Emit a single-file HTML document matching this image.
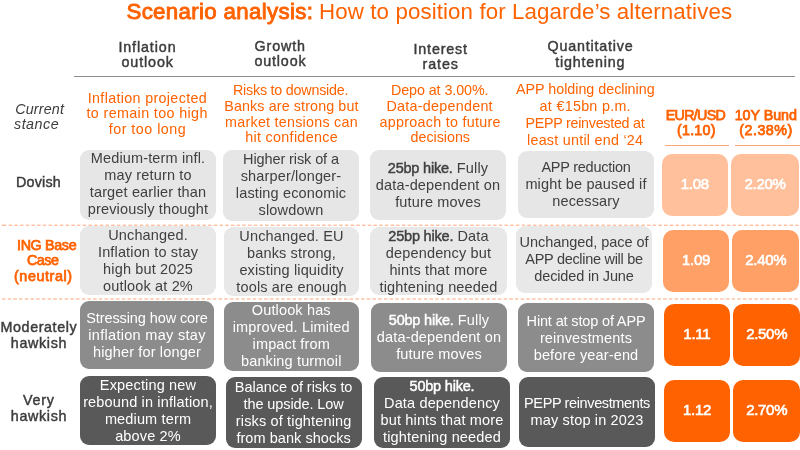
<!DOCTYPE html>
<html><head><meta charset="utf-8"><title>Scenario analysis</title>
<style>
html,body{margin:0;padding:0;background:#fff}
body{width:800px;height:450px;position:relative;overflow:hidden;font-family:"Liberation Sans",sans-serif;}
.bx{position:absolute;border-radius:9px;display:flex;flex-direction:column;justify-content:center;align-items:center;text-align:center;font-size:14.5px;line-height:17px;letter-spacing:0.15px;white-space:nowrap;box-sizing:border-box}
.bx div{display:block}
.bx b{font-weight:400;letter-spacing:-0.2px;-webkit-text-stroke:0.45px currentColor}
.ob b{letter-spacing:-0.3px;-webkit-text-stroke:0.6px currentColor}
.ob{font-size:15px;letter-spacing:-0.3px;border-radius:10px}
.l{position:absolute;white-space:pre;line-height:30px}
.hl{position:absolute;background:#8e8e8e}
.ol{position:absolute;background:#FFA577;height:1px}
</style></head><body><div id="w" style="position:absolute;left:0;top:0;width:800px;height:450px;will-change:transform">

<div class="hl" style="left:73.5px;top:75.55px;width:721.5px;height:1px"></div>
<div class="ol" style="left:665px;top:144.6px;width:64px"></div>
<div class="ol" style="left:734.75px;top:144.6px;width:66px"></div>
<svg style="position:absolute;left:0;top:0" width="800" height="450" viewBox="0 0 800 450"><rect x="-1.6" y="225.2" width="803.2" height="73.8" rx="4.5" ry="4.5" fill="none" stroke="#FFA577" stroke-width="1" stroke-dasharray="3.5 2.2"/></svg>
<div class="bx" style="left:80px;top:149.5px;width:136px;height:70.0px;background:#E6E6E6;color:#404040;padding-bottom:1.0px;"><div>Medium-term infl.</div><div>may return to</div><div>target earlier than</div><div>previously thought</div></div>
<div class="bx" style="left:223px;top:149.5px;width:136px;height:71.0px;background:#E6E6E6;color:#404040;"><div style="letter-spacing:-0.1px">Higher risk of a</div><div>sharper/longer-</div><div>lasting economic</div><div>slowdown</div></div>
<div class="bx" style="left:370px;top:150px;width:136px;height:70px;background:#E6E6E6;color:#404040;"><div><b>25bp hike.</b> Fully</div><div>data-dependent on</div><div>future moves</div></div>
<div class="bx" style="left:518px;top:151px;width:136px;height:66.5px;background:#E6E6E6;color:#404040;padding-top:1.0px;"><div style="letter-spacing:-0.25px">APP reduction</div><div>might be paused if</div><div>necessary</div></div>
<div class="bx ob" style="left:661.5px;top:154px;width:66.5px;height:62px;background:#FFC09B;color:#fff;padding-bottom:3.0px;"><div><b>1.08</b></div></div>
<div class="bx ob" style="left:731px;top:154px;width:68px;height:62px;background:#FFC09B;color:#fff;padding-bottom:3.0px;"><div><b>2.20%</b></div></div>
<div class="bx" style="left:80px;top:226px;width:136px;height:68.5px;background:#E8E8E8;color:#404040;padding-top:2px;"><div>Unchanged.</div><div>Inflation to stay</div><div>high but 2025</div><div>outlook at 2%</div></div>
<div class="bx" style="left:224px;top:227px;width:135px;height:68.5px;background:#E8E8E8;color:#404040;padding-top:2px;"><div>Unchanged. EU</div><div>banks strong,</div><div>existing liquidity</div><div>tools are enough</div></div>
<div class="bx" style="left:370px;top:227px;width:137px;height:68px;background:#E8E8E8;color:#404040;padding-top:1.0px;"><div><b>25bp hike.</b> Data</div><div>dependency but</div><div>hints that more</div><div>tightening needed</div></div>
<div class="bx" style="left:516px;top:226px;width:136px;height:67px;background:#E8E8E8;color:#404040;padding-bottom:1.0px;"><div style="letter-spacing:-0.05px">Unchanged, pace of</div><div style="letter-spacing:-0.3px">APP decline will be</div><div style="letter-spacing:-0.15px">decided in June</div></div>
<div class="bx ob" style="left:663px;top:230px;width:66px;height:62px;background:#FFA066;color:#fff;padding-bottom:3.0px;"><div><b>1.09</b></div></div>
<div class="bx ob" style="left:732.4px;top:230px;width:66.9px;height:62px;background:#FFA066;color:#fff;padding-bottom:3.0px;"><div><b>2.40%</b></div></div>
<div class="bx" style="left:80px;top:301px;width:134px;height:68px;background:#8C8C8C;color:#fff;padding-top:1.0px;"><div style="letter-spacing:-0.1px">Stressing how core</div><div style="letter-spacing:0.3px">inflation may stay</div><div>higher for longer</div></div>
<div class="bx" style="left:223.5px;top:302px;width:135.5px;height:68.5px;background:#8C8C8C;color:#fff;"><div>Outlook has</div><div>improved. Limited</div><div>impact from</div><div>banking turmoil</div></div>
<div class="bx" style="left:371px;top:302.5px;width:136px;height:69.25px;background:#8C8C8C;color:#fff;"><div><b>50bp hike.</b> Fully</div><div>data-dependent on</div><div>future moves</div></div>
<div class="bx" style="left:518px;top:302.5px;width:136px;height:69.0px;background:#8C8C8C;color:#fff;padding-top:2px;"><div style="letter-spacing:-0.15px">Hint at stop of APP</div><div>reinvestments</div><div>before year-end</div></div>
<div class="bx ob" style="left:663.6px;top:304px;width:66.4px;height:62px;background:#FF6200;color:#fff;padding-bottom:3.0px;"><div><b>1.11</b></div></div>
<div class="bx ob" style="left:733.4px;top:304px;width:66.6px;height:62px;background:#FF6200;color:#fff;padding-bottom:3.0px;"><div><b>2.50%</b></div></div>
<div class="bx" style="left:80px;top:376px;width:136px;height:69px;background:#595959;color:#fff;padding-top:1.0px;"><div>Expecting new</div><div>rebound in inflation,</div><div>medium term</div><div>above 2%</div></div>
<div class="bx" style="left:225.5px;top:377px;width:136.25px;height:70.5px;background:#595959;color:#fff;padding-top:2px;"><div style="letter-spacing:-0.05px">Balance of risks to</div><div style="letter-spacing:-0.1px">the upside. Low</div><div>risks of tightening</div><div style="letter-spacing:0.05px">from bank shocks</div></div>
<div class="bx" style="left:374px;top:377px;width:136px;height:70.5px;background:#595959;color:#fff;"><div><b>50bp hike.</b></div><div>Data dependency</div><div>but hints that more</div><div>tightening needed</div></div>
<div class="bx" style="left:519px;top:376.75px;width:136px;height:69.75px;background:#595959;color:#fff;"><div style="letter-spacing:-0.38px">PEPP reinvestments</div><div>may stop in 2023</div></div>
<div class="bx ob" style="left:664px;top:380px;width:66px;height:62px;background:#FF6200;color:#fff;padding-bottom:4px;"><div><b>1.12</b></div></div>
<div class="bx ob" style="left:733.4px;top:380px;width:66.6px;height:62px;background:#FF6200;color:#fff;padding-bottom:4px;"><div><b>2.70%</b></div></div>
<div class="l" style="left:126.44px;top:-3.5px;font-size:22.3px;font-weight:400;font-style:normal;color:#FF6200;letter-spacing:0.322px;-webkit-text-stroke:0.9px #FF6200">Scenario analysis:</div>
<div class="l" style="left:319.04px;top:-3.5px;font-size:22.3px;font-weight:400;font-style:normal;color:#FF6200;letter-spacing:0.108px">How to position for Lagarde’s alternatives</div>
<div class="l" style="left:118.4px;top:31.5px;font-size:14.3px;font-weight:400;font-style:normal;color:#3c3c3c;letter-spacing:0.89px;-webkit-text-stroke:0.45px #3c3c3c">Inflation</div>
<div class="l" style="left:121.5px;top:46.5px;font-size:14.3px;font-weight:400;font-style:normal;color:#3c3c3c;letter-spacing:0.882px;-webkit-text-stroke:0.45px #3c3c3c">outlook</div>
<div class="l" style="left:254.6px;top:30.7px;font-size:14.3px;font-weight:400;font-style:normal;color:#3c3c3c;letter-spacing:0.862px;-webkit-text-stroke:0.45px #3c3c3c">Growth</div>
<div class="l" style="left:254.4px;top:46.2px;font-size:14.3px;font-weight:400;font-style:normal;color:#3c3c3c;letter-spacing:0.849px;-webkit-text-stroke:0.45px #3c3c3c">outlook</div>
<div class="l" style="left:413.6px;top:33.5px;font-size:14.3px;font-weight:400;font-style:normal;color:#3c3c3c;letter-spacing:0.802px;-webkit-text-stroke:0.45px #3c3c3c">Interest</div>
<div class="l" style="left:422.5px;top:48.5px;font-size:14.3px;font-weight:400;font-style:normal;color:#3c3c3c;letter-spacing:0.901px;-webkit-text-stroke:0.45px #3c3c3c">rates</div>
<div class="l" style="left:547.5px;top:31.3px;font-size:14.3px;font-weight:400;font-style:normal;color:#3c3c3c;letter-spacing:0.8px;-webkit-text-stroke:0.45px #3c3c3c">Quantitative</div>
<div class="l" style="left:555.25px;top:46.5px;font-size:14.3px;font-weight:400;font-style:normal;color:#3c3c3c;letter-spacing:0.804px;-webkit-text-stroke:0.45px #3c3c3c">tightening</div>
<div class="l" style="left:87.75px;top:83.0px;font-size:14.3px;font-weight:400;font-style:normal;color:#FF6200;letter-spacing:0.338px">Inflation projected</div>
<div class="l" style="left:86.5px;top:98.0px;font-size:14.3px;font-weight:400;font-style:normal;color:#FF6200;letter-spacing:0.379px">to remain too high</div>
<div class="l" style="left:108.75px;top:114.0px;font-size:14.3px;font-weight:400;font-style:normal;color:#FF6200;letter-spacing:0.491px">for too long</div>
<div class="l" style="left:233.0px;top:75.0px;font-size:14.3px;font-weight:400;font-style:normal;color:#FF6200;letter-spacing:-0.218px">Risks to downside.</div>
<div class="l" style="left:224.25px;top:91.0px;font-size:14.3px;font-weight:400;font-style:normal;color:#FF6200;letter-spacing:0.122px">Banks are strong but</div>
<div class="l" style="left:225.1px;top:107.0px;font-size:14.3px;font-weight:400;font-style:normal;color:#FF6200;letter-spacing:0.253px">market tensions can</div>
<div class="l" style="left:245.25px;top:122.0px;font-size:14.3px;font-weight:400;font-style:normal;color:#FF6200;letter-spacing:0.317px">hit confidence</div>
<div class="l" style="left:390.9px;top:75.0px;font-size:14.3px;font-weight:400;font-style:normal;color:#FF6200;letter-spacing:-0.066px">Depo at 3.00%.</div>
<div class="l" style="left:386.5px;top:91.0px;font-size:14.3px;font-weight:400;font-style:normal;color:#FF6200;letter-spacing:0.273px">Data-dependent</div>
<div class="l" style="left:379.5px;top:107.0px;font-size:14.3px;font-weight:400;font-style:normal;color:#FF6200;letter-spacing:0.291px">approach to future</div>
<div class="l" style="left:410.5px;top:122.0px;font-size:14.3px;font-weight:400;font-style:normal;color:#FF6200;letter-spacing:-0.013px">decisions</div>
<div class="l" style="left:516.0px;top:74.0px;font-size:14.3px;font-weight:400;font-style:normal;color:#FF6200;letter-spacing:-0.012px">APP holding declining</div>
<div class="l" style="left:539.6px;top:91.0px;font-size:14.3px;font-weight:400;font-style:normal;color:#FF6200;letter-spacing:0.297px">at €15bn p.m.</div>
<div class="l" style="left:525.6px;top:108.0px;font-size:14.3px;font-weight:400;font-style:normal;color:#FF6200;letter-spacing:-0.277px">PEPP reinvested at</div>
<div class="l" style="left:527.0px;top:125.0px;font-size:14.3px;font-weight:400;font-style:normal;color:#FF6200;letter-spacing:0.262px">least until end ‘24</div>
<div class="l" style="left:665.8px;top:99.5px;font-size:14.3px;font-weight:400;font-style:normal;color:#FF6200;letter-spacing:-0.724px;-webkit-text-stroke:0.75px #FF6200">EUR/USD</div>
<div class="l" style="left:677.0px;top:115.0px;font-size:14.3px;font-weight:400;font-style:normal;color:#FF6200;letter-spacing:0.229px;-webkit-text-stroke:0.75px #FF6200">(1.10)</div>
<div class="l" style="left:734.7px;top:99.5px;font-size:14.3px;font-weight:400;font-style:normal;color:#FF6200;letter-spacing:-0.035px;-webkit-text-stroke:0.75px #FF6200">10Y Bund</div>
<div class="l" style="left:739.2px;top:115.0px;font-size:14.3px;font-weight:400;font-style:normal;color:#FF6200;letter-spacing:0.507px;-webkit-text-stroke:0.75px #FF6200">(2.38%)</div>
<div class="l" style="left:15.2px;top:93.6px;font-size:14.3px;font-weight:400;font-style:italic;color:#3c3c3c;letter-spacing:0.186px">Current</div>
<div class="l" style="left:14.0px;top:108.6px;font-size:14.3px;font-weight:400;font-style:italic;color:#3c3c3c;letter-spacing:0.495px">stance</div>
<div class="l" style="left:16.0px;top:166.5px;font-size:14.3px;font-weight:400;font-style:normal;color:#3c3c3c;letter-spacing:0.22px;-webkit-text-stroke:0.45px #3c3c3c">Dovish</div>
<div class="l" style="left:17.0px;top:229.6px;font-size:14.3px;font-weight:400;font-style:normal;color:#FF6200;letter-spacing:-0.34px;-webkit-text-stroke:0.75px #FF6200">ING Base</div>
<div class="l" style="left:27.0px;top:245.0px;font-size:14.3px;font-weight:400;font-style:normal;color:#FF6200;letter-spacing:-0.463px;-webkit-text-stroke:0.75px #FF6200">Case</div>
<div class="l" style="left:14.0px;top:261.0px;font-size:14.3px;font-weight:400;font-style:normal;color:#FF6200;letter-spacing:0.594px;-webkit-text-stroke:0.75px #FF6200">(neutral)</div>
<div class="l" style="left:0.5px;top:312.0px;font-size:14.3px;font-weight:400;font-style:normal;color:#3c3c3c;letter-spacing:0.608px;-webkit-text-stroke:0.45px #3c3c3c">Moderately</div>
<div class="l" style="left:10.8px;top:327.7px;font-size:14.3px;font-weight:400;font-style:normal;color:#3c3c3c;letter-spacing:0.658px;-webkit-text-stroke:0.45px #3c3c3c">hawkish</div>
<div class="l" style="left:23.0px;top:385.3px;font-size:14.3px;font-weight:400;font-style:normal;color:#3c3c3c;letter-spacing:0.798px;-webkit-text-stroke:0.45px #3c3c3c">Very</div>
<div class="l" style="left:10.8px;top:400.5px;font-size:14.3px;font-weight:400;font-style:normal;color:#3c3c3c;letter-spacing:0.658px;-webkit-text-stroke:0.45px #3c3c3c">hawkish</div>
</div></body></html>
